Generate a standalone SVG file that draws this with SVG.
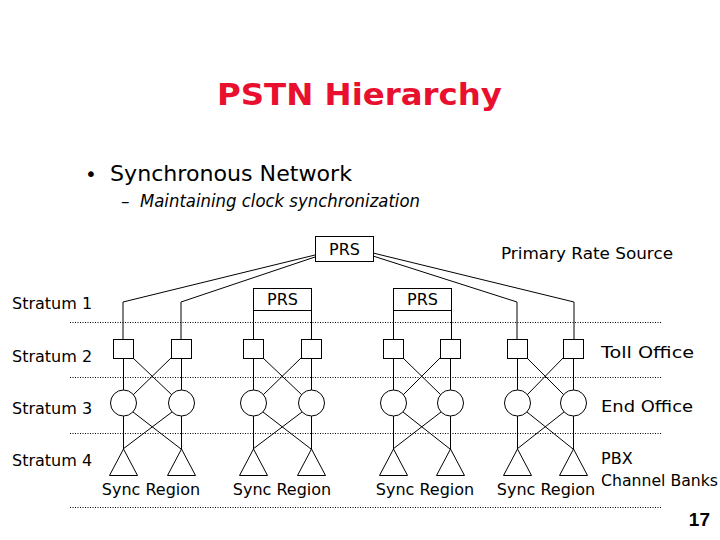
<svg xmlns="http://www.w3.org/2000/svg" width="720" height="540" viewBox="0 0 720 540">
<style>
text{font-family:"DejaVu Sans","Liberation Sans",sans-serif;fill:#000}
.t{font-size:16px}
.ln{stroke:#000;stroke-width:1;fill:none}
.dot{stroke:#000;stroke-width:1;stroke-dasharray:1 1.5;fill:none}
.sh{stroke:#000;stroke-width:1;fill:#fff}
</style>
<rect width="720" height="540" fill="#fff"/>
<text x="217" y="105" font-size="31" font-weight="bold" style="fill:#e8102e" textLength="285" lengthAdjust="spacingAndGlyphs">PSTN Hierarchy</text>
<text x="85" y="181" font-size="20">•</text>
<text x="110" y="181" font-size="22" textLength="242" lengthAdjust="spacingAndGlyphs">Synchronous Network</text>
<text x="121" y="207" font-size="17">–</text>
<text x="140" y="207" font-size="17" font-style="italic" textLength="280" lengthAdjust="spacingAndGlyphs">Maintaining clock synchronization</text>

<g id="levels">
<line class="dot" x1="70" y1="322.5" x2="661" y2="322.5"/>
<line class="dot" x1="70" y1="377.5" x2="661" y2="377.5"/>
<line class="dot" x1="70" y1="433.5" x2="661" y2="433.5"/>
<line class="dot" x1="70" y1="507.5" x2="662" y2="507.5"/>
</g>

<g id="stratum-labels" class="t">
<text x="12" y="309">Stratum 1</text>
<text x="12" y="362">Stratum 2</text>
<text x="12" y="414">Stratum 3</text>
<text x="12" y="466">Stratum 4</text>
<text x="501" y="259" textLength="172" lengthAdjust="spacingAndGlyphs">Primary Rate Source</text>
<text x="601" y="358" textLength="93" lengthAdjust="spacingAndGlyphs">Toll Office</text>
<text x="601" y="412" textLength="92" lengthAdjust="spacingAndGlyphs">End Office</text>
<text x="601" y="464">PBX</text>
<text x="601" y="486" textLength="117" lengthAdjust="spacingAndGlyphs">Channel Banks</text>
<text x="151" y="495" text-anchor="middle">Sync Region</text>
<text x="282" y="495" text-anchor="middle">Sync Region</text>
<text x="425" y="495" text-anchor="middle">Sync Region</text>
<text x="546" y="495" text-anchor="middle">Sync Region</text>
</g>
<text x="710" y="526" text-anchor="end" font-size="19" font-weight="bold" style="font-family:'Liberation Sans',Arial,sans-serif">17</text>

<g id="connectors" class="ln">
<!-- from top PRS -->
<polyline points="315,255 123,302 123,339"/>
<polyline points="315,257 181,302 181,339"/>
<polyline points="373,253 574,302 574,339"/>
<polyline points="373,256 517,302 517,339"/>
<!-- PRS boxes down to toll offices -->
<line x1="253.5" y1="310" x2="253.5" y2="339"/>
<line x1="311.5" y1="310" x2="311.5" y2="339"/>
<line x1="393.5" y1="310" x2="393.5" y2="339"/>
<line x1="451.5" y1="310" x2="451.5" y2="339"/>
<!-- group 1 -->
<path d="M123.5 358V390M181.5 358V390M123.5 416V449M181.5 416V449M133 358L172 395M171 358L133 395M133 412L181 449M172 412L123 449"/>
<!-- group 2 -->
<path d="M253.5 358V390M311.5 358V390M253.5 416V449M311.5 416V449M263 358L302 395M301 358L263 395M263 412L311 449M302 412L253 449"/>
<!-- group 3 -->
<path d="M393.5 358V390M450.5 358V390M393.5 416V449M450.5 416V449M403 358L441 395M440 358L403 395M403 412L450 449M441 412L393 449"/>
<!-- group 4 -->
<path d="M517.5 358V390M573.5 358V390M517.5 416V449M573.5 416V449M527 358L564 395M563 358L527 395M527 412L573 449M564 412L517 449"/>
</g>

<g id="prs-top">
<rect class="sh" x="315.5" y="236.5" width="58" height="25"/>
<text class="t" x="344.5" y="255" text-anchor="middle">PRS</text>
</g>
<g id="prs-2">
<rect class="sh" x="253.5" y="288.5" width="58" height="22"/>
<text class="t" x="282.5" y="305" text-anchor="middle">PRS</text>
</g>
<g id="prs-3">
<rect class="sh" x="393.5" y="288.5" width="58" height="22"/>
<text class="t" x="422.5" y="305" text-anchor="middle">PRS</text>
</g>

<g id="toll-offices">
<rect id="toll1" class="sh" x="113.5" y="339.5" width="20" height="19"/>
<rect id="toll2" class="sh" x="171.5" y="339.5" width="20" height="19"/>
<rect id="toll3" class="sh" x="243.5" y="339.5" width="20" height="19"/>
<rect id="toll4" class="sh" x="301.5" y="339.5" width="20" height="19"/>
<rect id="toll5" class="sh" x="383.5" y="339.5" width="20" height="19"/>
<rect id="toll6" class="sh" x="440.5" y="339.5" width="20" height="19"/>
<rect id="toll7" class="sh" x="507.5" y="339.5" width="20" height="19"/>
<rect id="toll8" class="sh" x="563.5" y="339.5" width="20" height="19"/>
</g>
<g id="end-offices">
<circle id="end1" class="sh" cx="123.5" cy="403" r="13"/>
<circle id="end2" class="sh" cx="181.5" cy="403" r="13"/>
<circle id="end3" class="sh" cx="253.5" cy="403" r="13"/>
<circle id="end4" class="sh" cx="311.5" cy="403" r="13"/>
<circle id="end5" class="sh" cx="393.5" cy="403" r="13"/>
<circle id="end6" class="sh" cx="450.5" cy="403" r="13"/>
<circle id="end7" class="sh" cx="517.5" cy="403" r="13"/>
<circle id="end8" class="sh" cx="573.5" cy="403" r="13"/>
</g>
<g id="pbx">
<polygon id="pbx1" class="sh" points="123.5,449 109.5,475.5 137.5,475.5"/>
<polygon id="pbx2" class="sh" points="181.5,449 167.5,475.5 195.5,475.5"/>
<polygon id="pbx3" class="sh" points="253.5,449 239.5,475.5 267.5,475.5"/>
<polygon id="pbx4" class="sh" points="311.5,449 297.5,475.5 325.5,475.5"/>
<polygon id="pbx5" class="sh" points="393.5,449 379.5,475.5 407.5,475.5"/>
<polygon id="pbx6" class="sh" points="450.5,449 436.5,475.5 464.5,475.5"/>
<polygon id="pbx7" class="sh" points="517.5,449 503.5,475.5 531.5,475.5"/>
<polygon id="pbx8" class="sh" points="573.5,449 559.5,475.5 587.5,475.5"/>
</g>
</svg>
